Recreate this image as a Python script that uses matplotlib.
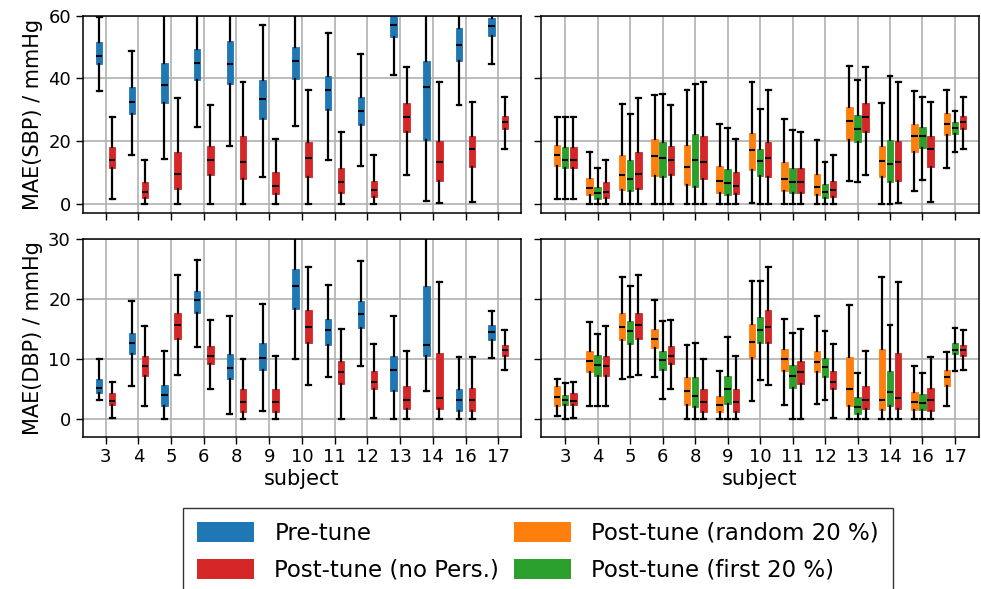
import numpy as np
import matplotlib.pyplot as plt
from matplotlib.patches import Patch

subjects = [3, 4, 5, 6, 8, 9, 10, 11, 12, 13, 14, 16, 17]

# one row per subject: whislo, q1, median, q3, whishi
sbp_pre = [
    [36.0, 44.5, 47.1, 51.5, 59.5], [15.6, 28.6, 32.6, 37.2, 48.6],
    [14.2, 32.2, 37.9, 44.8, 70.0], [24.6, 39.4, 44.8, 49.3, 68.0],
    [18.4, 38.3, 44.6, 52.0, 72.0], [8.4, 27.2, 33.3, 39.5, 57.2],
    [24.8, 39.9, 45.6, 50.0, 66.0], [13.9, 29.8, 36.2, 40.9, 54.4],
    [12.2, 25.1, 29.5, 34.0, 47.8], [41.1, 53.1, 57.0, 61.0, 68.0],
    [1.0, 20.4, 37.2, 45.7, 72.0], [31.6, 45.7, 50.8, 56.0, 66.0],
    [44.6, 53.4, 56.6, 59.4, 66.0],
]
sbp_nopers = [
    [1.5, 11.5, 14.0, 18.2, 27.6], [0.0, 2.0, 3.9, 6.8, 14.0],
    [0.0, 4.8, 9.5, 16.5, 33.9], [0.0, 9.3, 14.1, 18.5, 31.4],
    [0.0, 8.0, 13.3, 21.5, 38.7], [0.0, 3.0, 5.7, 10.0, 20.8],
    [0.0, 8.5, 14.5, 19.8, 36.2], [0.0, 3.5, 6.8, 11.3, 22.8],
    [0.0, 2.1, 4.5, 7.3, 15.5], [9.2, 22.8, 27.8, 32.3, 43.6],
    [0.2, 7.3, 13.3, 20.0, 39.0], [0.6, 11.9, 17.6, 21.6, 32.4],
    [17.5, 23.9, 26.0, 27.9, 34.1],
]
sbp_random = [
    [1.5, 12.1, 15.5, 18.8, 27.7], [0.0, 2.8, 5.1, 8.1, 16.4],
    [0.0, 4.5, 9.2, 15.6, 31.9], [0.0, 9.0, 15.2, 20.6, 34.6],
    [0.0, 6.1, 11.9, 18.7, 36.3], [0.0, 3.4, 7.4, 12.1, 25.3],
    [0.2, 10.9, 17.3, 22.5, 38.7], [0.0, 4.1, 7.9, 13.2, 27.1],
    [0.0, 2.8, 5.5, 9.6, 20.2], [7.3, 20.5, 26.5, 31.0, 44.1],
    [0.0, 8.4, 13.8, 18.5, 32.2], [4.0, 16.4, 21.7, 25.4, 35.9],
    [11.3, 22.0, 25.4, 28.9, 36.4],
]
sbp_first = [
    [1.5, 11.5, 14.0, 18.2, 27.6], [0.0, 1.6, 3.4, 5.5, 11.5],
    [0.0, 4.2, 8.0, 14.1, 28.8], [0.0, 8.5, 14.5, 19.6, 35.1],
    [0.0, 5.3, 14.1, 22.4, 38.2], [0.0, 2.9, 6.5, 11.1, 24.1],
    [0.0, 9.0, 13.8, 17.6, 30.4], [0.0, 3.4, 7.1, 11.3, 23.5],
    [0.0, 2.0, 3.8, 6.4, 13.2], [6.8, 19.8, 23.9, 28.4, 39.5],
    [0.0, 6.8, 12.8, 20.2, 40.8], [7.6, 17.9, 21.6, 24.5, 34.0],
    [16.6, 22.4, 24.3, 26.1, 29.5],
]

dbp_pre = [
    [3.2, 4.3, 5.1, 6.6, 9.9], [5.5, 10.9, 12.7, 14.4, 19.6],
    [0.0, 2.1, 3.9, 5.7, 11.3], [12.0, 17.6, 19.9, 21.4, 26.6],
    [0.8, 6.7, 8.5, 10.9, 17.1], [1.3, 8.1, 10.1, 12.7, 19.2],
    [9.9, 18.4, 22.2, 25.1, 33.0], [7.0, 12.4, 14.8, 16.6, 22.4],
    [8.8, 15.2, 17.5, 19.6, 26.3], [0.0, 4.6, 8.1, 10.5, 17.1],
    [4.7, 10.5, 12.3, 22.2, 35.0], [0.0, 1.3, 3.2, 5.0, 10.3],
    [10.2, 13.2, 14.5, 15.6, 18.0],
]
dbp_nopers = [
    [0.1, 2.3, 2.9, 4.3, 6.1], [2.2, 7.2, 8.8, 10.4, 15.5],
    [7.3, 13.4, 15.7, 17.7, 24.1], [4.9, 9.2, 10.5, 12.1, 16.5],
    [0.0, 1.2, 2.8, 4.9, 10.0], [0.0, 1.2, 2.8, 4.9, 10.4],
    [5.7, 12.7, 15.4, 18.2, 25.3], [0.0, 5.8, 7.8, 9.6, 15.0],
    [0.2, 4.9, 6.2, 7.9, 12.5], [0.0, 1.6, 3.2, 5.5, 11.4],
    [0.0, 1.6, 3.4, 11.0, 22.8], [0.0, 1.3, 3.2, 5.2, 10.3],
    [8.1, 10.5, 11.5, 12.3, 14.9],
]
dbp_random = [
    [0.4, 2.1, 3.6, 5.4, 6.6], [2.2, 7.8, 9.6, 11.4, 16.1],
    [6.6, 13.2, 15.4, 17.6, 23.7], [6.9, 11.8, 13.4, 15.0, 19.9],
    [0.0, 2.3, 4.7, 7.0, 12.4], [0.0, 1.1, 2.3, 3.8, 8.0],
    [3.0, 10.1, 12.9, 15.8, 23.0], [2.3, 7.9, 9.9, 11.6, 16.6],
    [2.5, 7.8, 9.5, 11.4, 17.2], [0.0, 2.1, 5.0, 10.3, 19.0],
    [0.0, 1.4, 3.2, 11.6, 23.7], [0.0, 1.4, 2.8, 4.4, 8.8],
    [2.1, 5.5, 7.0, 8.1, 11.2],
]
dbp_first = [
    [0.0, 2.3, 3.2, 3.9, 5.9], [2.2, 7.2, 9.0, 10.6, 14.2],
    [7.0, 12.5, 14.6, 16.3, 22.1], [3.3, 8.1, 9.8, 11.4, 16.4],
    [0.0, 1.9, 3.8, 6.9, 12.7], [0.0, 2.5, 5.0, 7.1, 13.7],
    [6.4, 12.7, 14.8, 17.0, 23.0], [0.0, 5.2, 7.2, 9.0, 14.3],
    [3.1, 7.0, 8.6, 10.1, 14.7], [0.0, 0.8, 2.0, 3.7, 7.7],
    [0.0, 2.1, 4.4, 7.9, 15.6], [0.0, 1.4, 2.6, 4.1, 7.6],
    [8.0, 10.8, 11.5, 12.7, 15.2],
]

c_pre, c_nopers = 'tab:blue', 'tab:red'
c_random, c_first = 'tab:orange', 'tab:green'


def draw(ax, rows, offset, color):
    stats = [dict(whislo=r[0], q1=r[1], med=r[2], q3=r[3], whishi=r[4], fliers=[])
             for r in rows]
    pos = np.arange(1, len(rows) + 1) + offset
    ax.bxp(stats, positions=pos, widths=0.2, capwidths=0.15, patch_artist=True,
           showfliers=False,
           boxprops=dict(facecolor=color, edgecolor=color, linewidth=0.6),
           medianprops=dict(color='black', linewidth=1.5),
           whiskerprops=dict(color='black', linewidth=1.6),
           capprops=dict(color='black', linewidth=1.6))


fig, axs = plt.subplots(2, 2, figsize=(9.81, 5.89), dpi=100, sharex='col', sharey='row')
fig.subplots_adjust(left=0.0843, right=0.9983, top=0.9733, bottom=0.2586,
                    wspace=0.045, hspace=0.1316)

draw(axs[0, 0], sbp_pre, -0.2, c_pre)
draw(axs[0, 0], sbp_nopers, 0.2, c_nopers)
draw(axs[0, 1], sbp_random, -0.25, c_random)
draw(axs[0, 1], sbp_first, 0.0, c_first)
draw(axs[0, 1], sbp_nopers, 0.25, c_nopers)

draw(axs[1, 0], dbp_pre, -0.2, c_pre)
draw(axs[1, 0], dbp_nopers, 0.2, c_nopers)
draw(axs[1, 1], dbp_random, -0.25, c_random)
draw(axs[1, 1], dbp_first, 0.0, c_first)
draw(axs[1, 1], dbp_nopers, 0.25, c_nopers)

for ax in axs.flat:
    ax.set_xticks(np.arange(1, len(subjects) + 1))
    ax.set_xticklabels([str(s) for s in subjects])
    ax.grid(True, color='#b0b0b0', linewidth=1.2)
    ax.tick_params(labelsize=13, length=5, width=1)
    for sp in ax.spines.values():
        sp.set_linewidth(1.1)
for ax in axs[0]:
    ax.tick_params(labelbottom=False)

axs[0, 0].set_ylim(-3, 60)
axs[1, 0].set_ylim(-3, 30)
axs[0, 0].set_ylabel('MAE(SBP) / mmHg', fontsize=15)
axs[1, 0].set_ylabel('MAE(DBP) / mmHg', fontsize=15)
axs[1, 0].set_xlabel('subject', fontsize=15, labelpad=2)
axs[1, 1].set_xlabel('subject', fontsize=15, labelpad=2)

handles = [Patch(facecolor=c_pre, label='Pre-tune'),
           Patch(facecolor=c_nopers, label='Post-tune (no Pers.)'),
           Patch(facecolor=c_random, label='Post-tune (random 20 %)'),
           Patch(facecolor=c_first, label='Post-tune (first 20 %)')]
leg = fig.legend(handles=handles, ncol=2, loc='upper center',
                 bbox_to_anchor=(538 / 981, 1 - 508 / 589), borderaxespad=0,
                 fontsize=16.5, handlelength=2.5, handleheight=1.0,
                 handletextpad=0.87, columnspacing=0.65, labelspacing=0.6,
                 borderpad=0.6, fancybox=False, framealpha=1, edgecolor='#333333')

fig.savefig('out.png', dpi=100)
